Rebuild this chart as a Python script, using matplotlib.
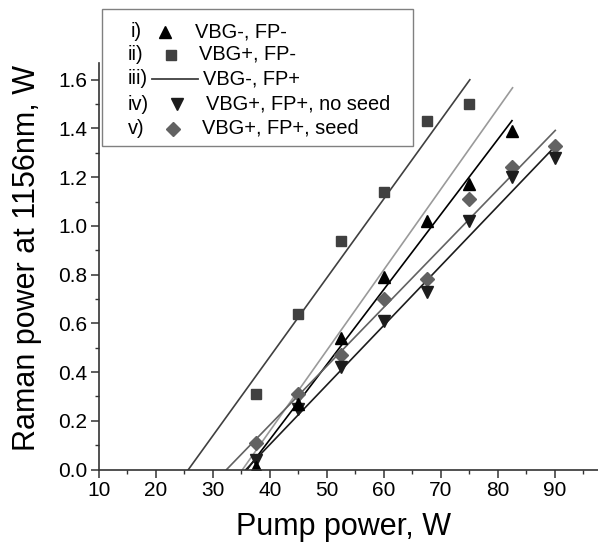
#
# Raman power vs pump power, five configurations
#
import matplotlib
matplotlib.use('Agg')
from matplotlib import pyplot as plt
from matplotlib.lines import Line2D
from matplotlib.patches import Rectangle
from matplotlib.ticker import MultipleLocator
#
plt.rcParams['font.family'] = ['Liberation Sans', 'DejaVu Sans']
#
# ----------------------------------------------------
# Measured points
x_i = [37.5, 45, 52.5, 60, 67.5, 75, 82.5]
y_i = [0.01, 0.27, 0.54, 0.79, 1.02, 1.17, 1.39]
#
x_ii = [37.5, 45, 52.5, 60, 67.5, 75]
y_ii = [0.31, 0.64, 0.94, 1.14, 1.43, 1.50]
#
x_iv = [37.5, 45, 52.5, 60, 67.5, 75, 82.5, 90]
y_iv = [0.04, 0.25, 0.42, 0.61, 0.73, 1.02, 1.20, 1.28]
#
x_v = [37.5, 45, 52.5, 60, 67.5, 75, 82.5, 90]
y_v = [0.11, 0.31, 0.47, 0.70, 0.78, 1.11, 1.24, 1.33]
#
# Linear fits: [x at threshold, x at end], [y at threshold, y at end]
fit_i_x = [36.0, 82.5]
fit_i_y = [0.0, 1.432]
fit_ii_x = [25.7, 75.1]
fit_ii_y = [0.0, 1.60]
fit_iii_x = [35.2, 82.6]
fit_iii_y = [0.0, 1.567]
fit_iv_x = [35.8, 90.0]
fit_iv_y = [0.0, 1.325]
fit_v_x = [32.4, 90.1]
fit_v_y = [0.0, 1.392]
#
legend_tags = ['i)', 'ii)', 'iii)', 'iv)', 'v)']
legend_labels = ['VBG-, FP-', 'VBG+, FP-', 'VBG-, FP+',
                 'VBG+, FP+, no seed', 'VBG+, FP+, seed']
#
c_i = 'black'
c_ii = '#404040'
c_iii = '#9a9a9a'
c_iv = '#1c1c1c'
c_v = '#626262'
#
W, H = 598, 543
fig = plt.figure(figsize = (W / 100.0, H / 100.0), dpi = 100)
ax = fig.add_axes([99.0 / W, (H - 469.5) / H, (W - 99.0) / W, (469.5 - 62.7) / H])
#
def fx(px): return px / float(W)
def fy(py): return 1.0 - py / float(H)
#
lw = 1.2
ax.plot(fit_ii_x, fit_ii_y, color = c_ii, lw = lw)
ax.plot(fit_iii_x, fit_iii_y, color = c_iii, lw = lw)
ax.plot(fit_i_x, fit_i_y, color = c_i, lw = lw)
ax.plot(fit_v_x, fit_v_y, color = c_v, lw = lw)
ax.plot(fit_iv_x, fit_iv_y, color = c_iv, lw = lw)
#
ax.plot(x_ii, y_ii, ls = 'none', marker = 's', ms = 6.5, color = c_ii, mec = c_ii)
ax.plot(x_v, y_v, ls = 'none', marker = 'D', ms = 7, color = c_v, mec = c_v)
ax.plot(x_iv, y_iv, ls = 'none', marker = 'v', ms = 9, color = c_iv, mec = c_iv)
ax.plot(x_i, y_i, ls = 'none', marker = '^', ms = 9, color = c_i, mec = c_i)
#
ax.set_xlim(10, 97.6)
ax.set_ylim(0, 1.67)
ax.xaxis.set_major_locator(MultipleLocator(10))
ax.xaxis.set_minor_locator(MultipleLocator(5))
ax.yaxis.set_major_locator(MultipleLocator(0.2))
ax.yaxis.set_minor_locator(MultipleLocator(0.1))
ax.yaxis.set_major_formatter(plt.FuncFormatter(lambda v, p: '{0:.1f}'.format(v)))
for s in ['top', 'right']:
    ax.spines[s].set_visible(False)
for s in ['left', 'bottom']:
    ax.spines[s].set_color('#333333')
    ax.spines[s].set_linewidth(1.2)
ax.tick_params(which = 'major', direction = 'out', length = 5.5, width = 1.1,
               labelsize = 15, color = '#333333', pad = 3)
ax.tick_params(which = 'minor', direction = 'out', length = 3, width = 1.0,
               color = '#333333')
#
# Axis titles placed by baseline
fig.text(fx(344), fy(535), 'Pump power, W', fontsize = 22,
         ha = 'center', va = 'baseline')
fig.text(fx(35), fy(257.5), 'Raman power at 1156nm, W', fontsize = 22,
         rotation = 90, rotation_mode = 'anchor', ha = 'center', va = 'baseline')
#
# Legend box, drawn by hand in figure pixels
fig.add_artist(Rectangle((fx(102), fy(146)), fx(413) - fx(102), fy(9) - fy(146),
                         transform = fig.transFigure, facecolor = 'white',
                         edgecolor = '#808080', lw = 1.0, zorder = 5))
row_y = [31.7, 54.5, 79.0, 104.0, 128.5]
tag_x = [131.0, 128.0, 128.0, 128.0, 128.0]
mark_x = [165.0, 170.7, None, 177.0, 172.7]
text_x = [195.0, 199.0, 203.0, 206.0, 201.7]
styles = [('^', 9, c_i), ('s', 6.5, c_ii), (None, 0, c_iii), ('v', 9, c_iv), ('D', 7, c_v)]
for k in range(5):
    fig.text(fx(tag_x[k]), fy(row_y[k]), legend_tags[k], fontsize = 14.4,
             ha = 'left', va = 'center', zorder = 6)
    mk, ms, col = styles[k]
    if mk is None:
        fig.add_artist(Line2D([fx(151.7), fx(198.3)], [fy(row_y[k]), fy(row_y[k])],
                              transform = fig.transFigure, color = '#404040', lw = 1.3,
                              zorder = 6))
    else:
        fig.add_artist(Line2D([fx(mark_x[k])], [fy(row_y[k])], transform = fig.transFigure,
                              ls = 'none', marker = mk, ms = ms, color = col, mec = col,
                              zorder = 6))
    fig.text(fx(text_x[k]), fy(row_y[k]), legend_labels[k], fontsize = 14.4,
             ha = 'left', va = 'center', zorder = 6)
#
fig.savefig('out.png', dpi = 100)
